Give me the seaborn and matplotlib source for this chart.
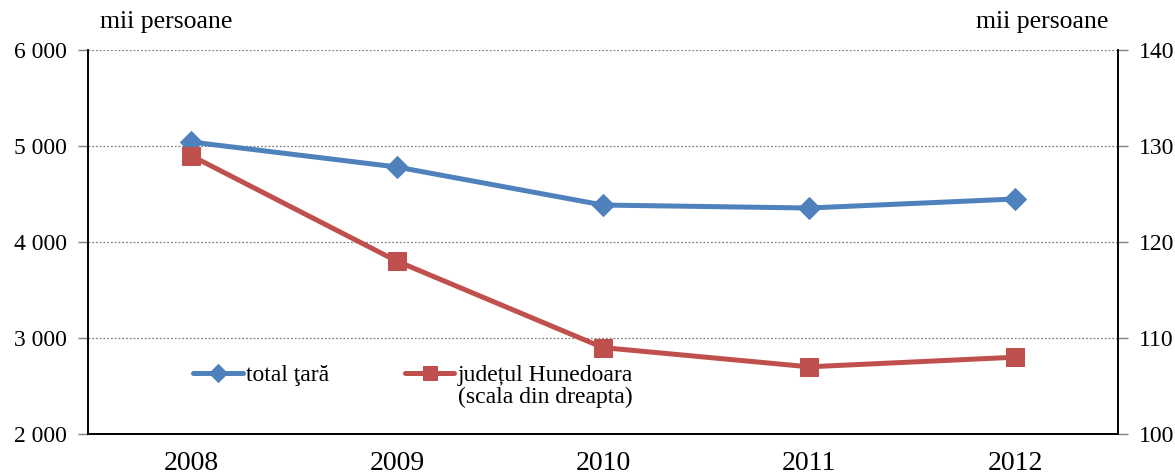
import matplotlib.pyplot as plt
import matplotlib.ticker as mticker
import seaborn as sns

years = ["2008", "2009", "2010", "2011", "2012"]
total_tara = [5042, 4781, 4385, 4354, 4448]
hunedoara = [129, 118, 109, 107, 108]

label_total = "total ţară"
label_hd = "județul Hunedoara"
label_hd_note = "(scala din dreapta)"

sns.set_style("white")
plt.rcParams['font.family'] = ['Liberation Serif', 'DejaVu Serif']
plt.rcParams['text.color'] = 'black'

blue = "#4F81BD"
red = "#C0504D"

fig = plt.figure(figsize=(11.75, 4.76), dpi=100)
ax = fig.add_axes([0.0749, 0.0882, 0.8766, 0.8068])
ax2 = ax.twinx()

sns.lineplot(x=years, y=total_tara, ax=ax, color=blue, linewidth=3.6,
             marker="D", markersize=11, markeredgecolor=blue, label=label_total,
             legend=False, zorder=3)
sns.lineplot(x=years, y=hunedoara, ax=ax2, color=red, linewidth=3.6,
             marker="s", markersize=13, markeredgecolor=red, label=label_hd,
             legend=False, zorder=3)

ax.set_xlim(-0.5, 4.5)
ax.set_ylim(2000, 6000)
ax.set_yticks([2000, 3000, 4000, 5000, 6000])
ax.yaxis.set_major_formatter(mticker.FuncFormatter(lambda v, p: f"{int(v):,}".replace(",", " ")))
ax2.set_ylim(100, 140)
ax2.set_yticks([100, 110, 120, 130, 140])

ax.grid(axis="y", color="#808080", linestyle=(0, (1.5, 1.5)), linewidth=0.9)
ax.set_axisbelow(True)

for a in (ax, ax2):
    a.spines["top"].set_visible(False)
    for s in ("left", "right", "bottom"):
        a.spines[s].set_color("black")
        a.spines[s].set_linewidth(1.2)

ax.set_xticks(range(len(years)))
ax.set_xticklabels(years)
ax.xaxis.set_minor_locator(mticker.FixedLocator([i - 0.5 for i in range(len(years) + 1)]))
ax.tick_params(axis="x", which="major", length=0, labelsize=20, pad=12, labelcolor="black")
ax.tick_params(axis="x", which="minor", length=7, width=1, color="#808080", direction="out")
ax.tick_params(axis="y", length=7, width=1, color="#808080", direction="out", labelsize=17,
               pad=8, labelcolor="black")
ax2.tick_params(axis="y", length=7, width=1, color="#808080", direction="out", labelsize=17,
                pad=8, labelcolor="black")
ax.set_xlabel("")
ax.set_ylabel("")
ax2.set_ylabel("")

fig.text(100 / 1175, 1 - 22 / 476, "mii persoane", fontsize=18.5, va="center", ha="left")
fig.text(1108 / 1175, 1 - 22 / 476, "mii persoane", fontsize=18.5, va="center", ha="right")

h1, l1 = ax.get_legend_handles_labels()
h2, l2 = ax2.get_legend_handles_labels()
leg = ax2.legend(h1 + h2, l1 + l2, ncol=2, frameon=False, fontsize=17,
                 loc="center left", bbox_to_anchor=(0.102, 0.153), handlelength=2.1,
                 columnspacing=3.2, handletextpad=0.15, borderaxespad=0, borderpad=0,
                 markerscale=0.8)

# second line of the red legend entry, under its first line
fig.canvas.draw()
bb = leg.get_texts()[1].get_window_extent()
fig.text(bb.x0 / fig.bbox.width, (bb.y0 - 1) / fig.bbox.height, label_hd_note,
         fontsize=17, va="top", ha="left")

fig.savefig("out.png", dpi=100)
